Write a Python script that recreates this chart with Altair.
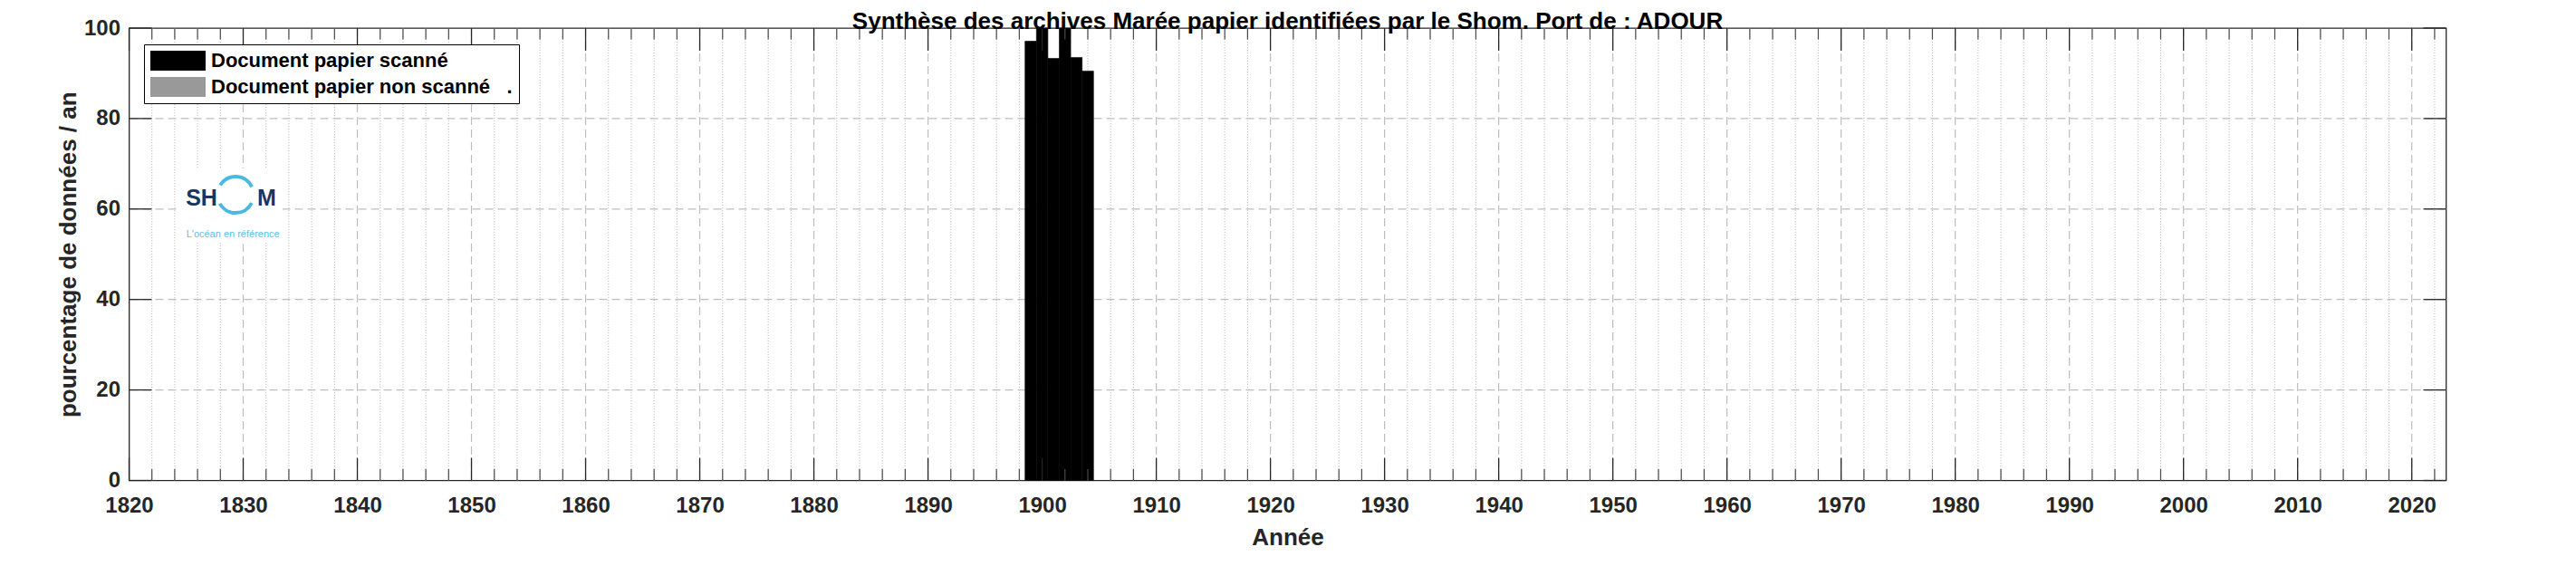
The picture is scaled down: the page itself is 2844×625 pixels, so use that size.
import altair as alt
import pandas as pd

# ---------------- data ----------------
years_scanned = [1899, 1900, 1901, 1902, 1903, 1904]
pct_scanned = [97.1, 100.0, 93.3, 100.0, 93.5, 90.5]
years_non_scanned = []
pct_non_scanned = []
series_labels = ["Document papier scanné", "Document papier non scanné\u00a0\u00a0\u00a0."]
series_colors = ["#000000", "#999999"]
x_tick_labels = [1820, 1830, 1840, 1850, 1860, 1870, 1880, 1890, 1900, 1910, 1920,
                 1930, 1940, 1950, 1960, 1970, 1980, 1990, 2000, 2010, 2020]
y_tick_labels = [0, 20, 40, 60, 80, 100]
x_domain = [1820, 2023]
y_domain = [0, 100]
title_text = "Synthèse des archives Marée papier identifiées par le Shom. Port de : ADOUR"
x_title = "Année"
y_title = "pourcentage de données / an"

# minor ticks every 2 years (between the labelled decades)
x_minor_ticks = [v for v in range(x_domain[0] + 2, x_domain[1], 2) if v % 10 != 0]

# ---------------- layout / style ----------------
W = 2558
H = 499.5
FONT = "Liberation Sans"
AX = "#262626"
TICK_PX = 25
tick_pct = TICK_PX / H * (y_domain[1] - y_domain[0])
tick_yr = TICK_PX / W * (x_domain[1] - x_domain[0])

x_scale = alt.Scale(domain=x_domain, nice=False, zero=False)
y_scale = alt.Scale(domain=y_domain, nice=False, zero=False)

x_axis = alt.Axis(values=x_tick_labels, format="d", labelFont=FONT, labelFontSize=24,
                  labelFontWeight="bold", labelColor=AX, labelPadding=16, labelFlush=False,
                  ticks=False, domain=False, grid=False,
                  title=x_title, titleFont=FONT, titleFontSize=26, titleFontWeight="bold",
                  titleColor=AX, titlePadding=10)
y_axis = alt.Axis(values=y_tick_labels, format="d", labelFont=FONT, labelFontSize=24,
                  labelFontWeight="bold", labelColor=AX, labelPadding=10,
                  ticks=False, domain=False, grid=False,
                  title=y_title, titleFont=FONT, titleFontSize=26, titleFontWeight="bold",
                  titleColor=AX, titlePadding=4)


def X(field):
    return alt.X(field, scale=x_scale, axis=x_axis)


def Y(field):
    return alt.Y(field, scale=y_scale, axis=y_axis)


df = pd.DataFrame({
    "year": years_scanned + years_non_scanned,
    "pct": pct_scanned + pct_non_scanned,
    "series": [series_labels[0]] * len(years_scanned) + [series_labels[1]] * len(years_non_scanned),
})

legend = alt.Legend(title=None, orient="none", legendX=16.5, legendY=18, direction="vertical",
                    symbolType="M-1,-1L4.545,-1L4.545,1L-1,1Z", symbolSize=484,
                    symbolStrokeWidth=0, symbolOpacity=1, labelFont=FONT, labelFontSize=22,
                    labelFontWeight="bold", labelColor="#000000", labelOffset=45, labelLimit=500,
                    padding=7, rowPadding=7, strokeColor="#000000", fillColor="#ffffff")

# grid
hgrid = alt.Chart(pd.DataFrame({"v": [v for v in y_tick_labels if y_domain[0] < v < y_domain[1]]})).mark_rule(
    color="#bdbdbd", strokeDash=[9, 5], strokeWidth=1.2
).encode(y=Y("v:Q"))

vgrid = alt.Chart(pd.DataFrame({"v": [v for v in x_tick_labels if x_domain[0] < v < x_domain[1]]})).mark_rule(
    color="#bdbdbd", strokeDash=[9, 5], strokeWidth=1.2
).encode(x=X("v:Q"))

vgrid_minor = alt.Chart(pd.DataFrame({"v": x_minor_ticks})).mark_rule(
    color="#c4c4c4", strokeDash=[1.2, 1.8], strokeWidth=1.1
).encode(x=X("v:Q"))

# Shom logo (decoration), placed in data coordinates
logo_box = pd.DataFrame({"x": [1824.4], "x2": [1833.45], "y": [68.96], "y2": [52.53]})
logo_words = pd.DataFrame({"x": [1826.35, 1832.06], "y": [62.4, 62.4], "t": ["SH", "M"]})
logo_ring = pd.DataFrame({"x": [1829.33], "y": [63.15]})
logo_motto = pd.DataFrame({"x": [1829.1], "y": [54.3], "t": ["L'océan en référence"]})

logo_bg = alt.Chart(logo_box).mark_rect(color="#ffffff").encode(
    x=X("x:Q"), x2="x2:Q", y=Y("y:Q"), y2="y2:Q")
logo_sh = alt.Chart(logo_words).mark_text(font=FONT, fontSize=25, fontWeight="bold",
                                          color="#1b365d", baseline="middle", align="center").encode(
    x=X("x:Q"), y=Y("y:Q"), text="t:N")
logo_arc_top = alt.Chart(logo_ring).mark_arc(theta=5.27, theta2=7.40, radius=22, radius2=18,
                                             color="#4bb8e3").encode(x=X("x:Q"), y=Y("y:Q"))
logo_arc_bot = alt.Chart(logo_ring).mark_arc(theta=2.04, theta2=4.20, radius=22, radius2=18,
                                             color="#4bb8e3").encode(x=X("x:Q"), y=Y("y:Q"))
logo_txt = alt.Chart(logo_motto).mark_text(font=FONT, fontSize=11, color="#5bbfe8",
                                           baseline="middle", align="center").encode(
    x=X("x:Q"), y=Y("y:Q"), text="t:N")

# bars
bars = alt.Chart(df).transform_calculate(
    x0="datum.year - 0.5", x1="datum.year + 0.5", base="0"
).mark_rect(stroke="#000000", strokeWidth=0.6).encode(
    x=X("x0:Q"),
    x2="x1:Q",
    y=Y("pct:Q"),
    y2="base:Q",
    color=alt.Color("series:N", scale=alt.Scale(domain=series_labels, range=series_colors), legend=legend),
)

# inward ticks (box on)
rule_major = dict(color=AX, strokeWidth=1.3)
rule_minor = dict(color="#4a4a4a", strokeWidth=1.2)


def xticks(values, y_from, y_to, style):
    d = pd.DataFrame({"v": values, "a": [y_from] * len(values), "b": [y_to] * len(values)})
    return alt.Chart(d).mark_rule(**style).encode(x=X("v:Q"), y=Y("a:Q"), y2="b:Q")


def yticks(values, x_from, x_to, style):
    d = pd.DataFrame({"v": values, "a": [x_from] * len(values), "b": [x_to] * len(values)})
    return alt.Chart(d).mark_rule(**style).encode(y=Y("v:Q"), x=X("a:Q"), x2="b:Q")


tb_major = xticks(x_tick_labels, y_domain[0], y_domain[0] + tick_pct, rule_major)
tt_major = xticks(x_tick_labels, y_domain[1], y_domain[1] - tick_pct, rule_major)
tb_minor = xticks(x_minor_ticks, y_domain[0], y_domain[0] + tick_pct / 2, rule_minor)
tt_minor = xticks(x_minor_ticks, y_domain[1], y_domain[1] - tick_pct / 2, rule_minor)
tl = yticks(y_tick_labels, x_domain[0], x_domain[0] + tick_yr, rule_major)
tr = yticks(y_tick_labels, x_domain[1], x_domain[1] - tick_yr, rule_major)

chart = alt.layer(
    hgrid, vgrid, vgrid_minor, logo_bg, logo_arc_top, logo_arc_bot, logo_sh, logo_txt, bars,
    tb_major, tt_major, tb_minor, tt_minor, tl, tr,
).properties(
    width=W, height=H,
    title=alt.TitleParams(text=title_text, font=FONT, fontSize=26, fontWeight="bold", color="#000000",
                          anchor="middle", baseline="alphabetic", offset=-39),
    autosize=alt.AutoSizeParams(type="none"),
    padding={"left": 134.5, "top": 23, "right": 120, "bottom": 80},
).configure_view(stroke=AX, strokeWidth=1.3)

chart.save("out.html", embed_options={"renderer": "svg", "actions": False})
